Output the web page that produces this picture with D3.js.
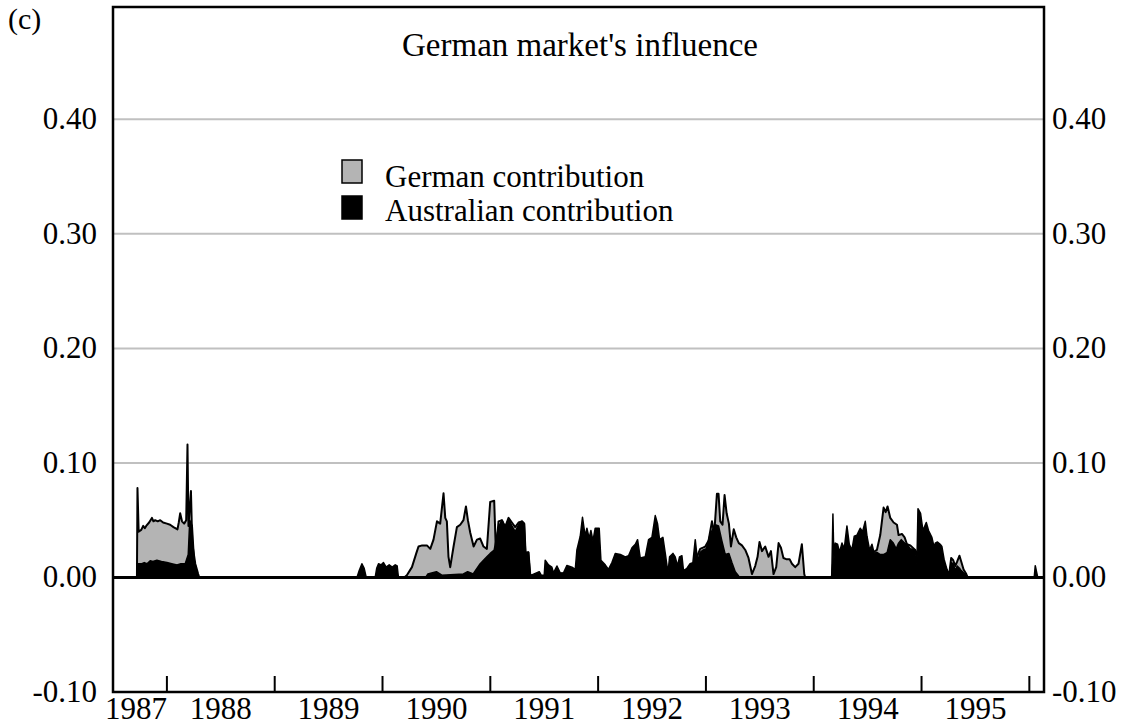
<!DOCTYPE html>
<html>
<head>
<meta charset="utf-8">
<script src="https://cdn.jsdelivr.net/npm/d3@7"></script>
<style>
  body { margin: 0; background: #fff; }
  text { font-family: "Liberation Serif", "Times New Roman", serif; fill: #000; }
</style>
</head>
<body>
<script>
// decimal year, value
var german = [
  [1987.5, 0], [1987.722, 0], [1987.727, 0.078], [1987.738, 0.040], [1987.762, 0.0415],
  [1987.780, 0.045], [1987.795, 0.043], [1987.808, 0.045], [1987.835, 0.048], [1987.861, 0.052],
  [1987.875, 0.049], [1987.891, 0.050], [1987.915, 0.049], [1987.938, 0.050], [1987.965, 0.048],
  [1988.000, 0.047], [1988.030, 0.046], [1988.061, 0.044], [1988.098, 0.042], [1988.110, 0.048],
  [1988.123, 0.056], [1988.140, 0.049], [1988.160, 0.047],
  [1988.179, 0.050], [1988.191, 0.116], [1988.200, 0.045], [1988.223, 0.0755], [1988.235, 0.030],
  [1988.263, 0.012], [1988.290, 0.003], [1988.300, 0],
  [1990.201, 0], [1990.226, 0.002], [1990.273, 0.009], [1990.313, 0.021], [1990.334, 0.027],
  [1990.368, 0.028], [1990.412, 0.028], [1990.443, 0.025], [1990.473, 0.033], [1990.505, 0.049],
  [1990.535, 0.047], [1990.566, 0.0735], [1990.582, 0.052], [1990.597, 0.049], [1990.612, 0.018],
  [1990.628, 0.009], [1990.659, 0.027], [1990.690, 0.044], [1990.721, 0.046], [1990.751, 0.050],
  [1990.774, 0.062], [1990.792, 0.050], [1990.814, 0.039], [1990.845, 0.027], [1990.876, 0.033],
  [1990.906, 0.034], [1990.937, 0.027], [1990.968, 0.025], [1990.999, 0.066], [1991.036, 0.067],
  [1991.052, 0.021], [1991.076, 0.049], [1991.108, 0.050], [1991.138, 0.044], [1991.169, 0.052],
  [1991.200, 0.048], [1991.231, 0.044], [1991.262, 0.048], [1991.293, 0.049], [1991.315, 0.047],
  [1991.327, 0.021], [1991.354, 0.022], [1991.370, 0.003], [1991.380, 0],
  [1991.500, 0], [1991.550, 0.003], [1991.800, 0.004], [1991.860, 0.008], [1992.000, 0.008],
  [1992.090, 0.005], [1992.300, 0.008], [1992.500, 0.010], [1992.640, 0.003], [1992.700, 0.008],
  [1992.790, 0.005], [1992.880, 0.010],
  [1992.947, 0.025], [1992.972, 0.026], [1992.994, 0.027], [1993.024, 0.032], [1993.056, 0.049],
  [1993.077, 0.038], [1993.102, 0.073], [1993.117, 0.073], [1993.133, 0.049], [1993.154, 0.046],
  [1993.173, 0.072], [1993.192, 0.056], [1993.213, 0.047], [1993.232, 0.027], [1993.258, 0.042],
  [1993.281, 0.035], [1993.305, 0.030], [1993.334, 0.028], [1993.365, 0.024], [1993.395, 0.017],
  [1993.427, 0.003], [1993.457, 0.010], [1993.479, 0.018], [1993.497, 0.031], [1993.520, 0.023],
  [1993.550, 0.027], [1993.581, 0.018], [1993.603, 0.023], [1993.627, 0.003], [1993.652, 0.009],
  [1993.674, 0.030], [1993.696, 0.026], [1993.719, 0.017], [1993.744, 0.016], [1993.776, 0.016],
  [1993.798, 0.012], [1993.828, 0.009], [1993.859, 0.012], [1993.890, 0.029], [1993.912, 0.003],
  [1993.921, 0],
  [1994.167, 0], [1994.178, 0.012], [1994.246, 0.012], [1994.339, 0.015], [1994.431, 0.018],
  [1994.505, 0.020], [1994.552, 0.022], [1994.586, 0.024], [1994.617, 0.037], [1994.648, 0.061],
  [1994.667, 0.057], [1994.685, 0.062], [1994.710, 0.052], [1994.741, 0.048], [1994.772, 0.046],
  [1994.787, 0.037], [1994.818, 0.038], [1994.843, 0.035], [1994.865, 0.029], [1994.896, 0.028],
  [1994.941, 0.024], [1994.967, 0.020], [1995.044, 0.020], [1995.127, 0.020], [1995.173, 0.018],
  [1995.210, 0.012], [1995.238, 0.005], [1995.257, 0.003], [1995.275, 0.017], [1995.294, 0.015],
  [1995.313, 0.010], [1995.331, 0.014], [1995.352, 0.019], [1995.368, 0.014], [1995.390, 0.007],
  [1995.415, 0.003], [1995.427, 0],
  [1996.136, 0]
];

var australian = [
  [1987.5, 0], [1987.722, 0], [1987.731, 0.012], [1987.767, 0.012], [1987.790, 0.013],
  [1987.815, 0.012], [1987.845, 0.0145], [1987.870, 0.014], [1987.907, 0.015], [1987.950, 0.014],
  [1988.000, 0.013], [1988.045, 0.012], [1988.093, 0.011], [1988.130, 0.012], [1988.170, 0.012],
  [1988.198, 0.020], [1988.212, 0.050], [1988.235, 0.045], [1988.254, 0.015], [1988.281, 0.003],
  [1988.290, 0],
  [1989.763, 0], [1989.784, 0.006], [1989.809, 0.012], [1989.830, 0.008], [1989.849, 0],
  [1989.932, 0], [1989.946, 0.008], [1989.963, 0.012], [1989.988, 0.011], [1990.009, 0.013],
  [1990.034, 0.009], [1990.062, 0.011], [1990.090, 0.009], [1990.118, 0.011], [1990.136, 0.010],
  [1990.148, 0],
  [1990.400, 0], [1990.420, 0.003], [1990.500, 0.005], [1990.550, 0.002], [1990.750, 0.003],
  [1990.790, 0.005], [1990.841, 0.003], [1990.906, 0.012], [1990.968, 0.018], [1990.999, 0.021],
  [1991.036, 0.024], [1991.076, 0.044], [1991.108, 0.050], [1991.138, 0.044], [1991.169, 0.051],
  [1991.200, 0.045], [1991.231, 0.040], [1991.262, 0.046], [1991.293, 0.049], [1991.315, 0.047],
  [1991.327, 0.022], [1991.354, 0.022], [1991.370, 0.003], [1991.380, 0.002], [1991.454, 0.005],
  [1991.472, 0.002], [1991.500, 0.002],
  [1991.509, 0.015], [1991.540, 0.011], [1991.571, 0.009], [1991.586, 0.004], [1991.618, 0.010],
  [1991.648, 0.004], [1991.679, 0.004], [1991.711, 0.0105], [1991.757, 0.009], [1991.788, 0.007],
  [1991.803, 0.024], [1991.834, 0.036], [1991.855, 0.0525], [1991.880, 0.036], [1991.896, 0.043],
  [1991.917, 0.034], [1991.933, 0.041], [1991.952, 0.032], [1991.973, 0.043], [1992.010, 0.043],
  [1992.026, 0.015], [1992.066, 0.011], [1992.096, 0.007], [1992.128, 0.013], [1992.159, 0.021],
  [1992.206, 0.020], [1992.252, 0.018], [1992.282, 0.019], [1992.314, 0.026], [1992.345, 0.029],
  [1992.366, 0.033], [1992.391, 0.017], [1992.437, 0.018], [1992.468, 0.033], [1992.499, 0.035],
  [1992.530, 0.054], [1992.551, 0.047], [1992.570, 0.033], [1992.601, 0.035], [1992.623, 0.021],
  [1992.648, 0.004], [1992.663, 0.018], [1992.694, 0.021], [1992.715, 0.018], [1992.737, 0.010],
  [1992.755, 0.018], [1992.777, 0.019], [1992.792, 0.006], [1992.824, 0.008], [1992.853, 0.012],
  [1992.879, 0.013], [1992.901, 0.033], [1992.922, 0.014],
  [1992.947, 0.022], [1992.975, 0.024], [1993.003, 0.025], [1993.040, 0.038], [1993.087, 0.046],
  [1993.117, 0.045], [1993.148, 0.032], [1993.179, 0.020], [1993.213, 0.021], [1993.241, 0.013],
  [1993.272, 0.005], [1993.305, 0.001], [1993.320, 0],
  [1994.167, 0], [1994.178, 0.0555], [1994.187, 0.015], [1994.199, 0.030], [1994.221, 0.029],
  [1994.239, 0.022], [1994.262, 0.030], [1994.283, 0.025], [1994.308, 0.045], [1994.330, 0.029],
  [1994.354, 0.024], [1994.376, 0.036], [1994.401, 0.037], [1994.431, 0.043], [1994.453, 0.040],
  [1994.478, 0.049], [1994.494, 0.036], [1994.518, 0.024], [1994.540, 0.029], [1994.561, 0.021],
  [1994.586, 0.022], [1994.617, 0.020], [1994.648, 0.020], [1994.682, 0.022], [1994.710, 0.033],
  [1994.738, 0.030], [1994.765, 0.025], [1994.787, 0.030], [1994.812, 0.033], [1994.843, 0.030],
  [1994.865, 0.029], [1994.896, 0.025], [1994.941, 0.024], [1994.957, 0.012], [1994.967, 0.060],
  [1994.991, 0.056], [1995.013, 0.041], [1995.044, 0.048], [1995.065, 0.041], [1995.096, 0.035],
  [1995.118, 0.026], [1995.127, 0.030], [1995.148, 0.031], [1995.173, 0.029], [1995.189, 0.027],
  [1995.209, 0.016], [1995.236, 0.007], [1995.257, 0.003], [1995.275, 0.013], [1995.294, 0.012],
  [1995.313, 0.006], [1995.331, 0.010], [1995.352, 0.008], [1995.368, 0.006], [1995.390, 0.004],
  [1995.415, 0.002], [1995.427, 0],
  [1996.045, 0], [1996.055, 0.0103], [1996.069, 0.004], [1996.078, 0],
  [1996.136, 0]
];

var yTicks = [-0.1, 0, 0.1, 0.2, 0.3, 0.4];
var gridTicks = [0.1, 0.2, 0.3, 0.4];
var yearTicks = [1988, 1989, 1990, 1991, 1992, 1993, 1994, 1995, 1996];
var yearLabels = [1987, 1988, 1989, 1990, 1991, 1992, 1993, 1994, 1995];

var plotLeft = 113, plotRight = 1044, plotTop = 7, plotBottom = 692;

var svg = d3.select('body').append('svg')
    .attr('width', 1134)
    .attr('height', 726);

var x = d3.scaleLinear().domain([1987.5, 1996.136]).range([plotLeft, plotRight]);
var y = d3.scaleLinear().domain([-0.1, 0.4]).range([plotBottom, 119.3]);

var fmt = function(d) { return d3.format('.2f')(d).replace('\u2212', '-'); };

// grid
svg.selectAll('.grid').data(gridTicks).enter().append('line')
    .attr('x1', plotLeft)
    .attr('x2', plotRight)
    .attr('y1', function(d) { return y(d); })
    .attr('y2', function(d) { return y(d); })
    .attr('stroke', '#c0c0c0')
    .attr('stroke-width', 2);

var area = d3.area()
    .x(function(d) { return x(d[0]); })
    .y0(y(0))
    .y1(function(d) { return y(d[1]); });

svg.append('path')
    .datum(german)
    .attr('d', area)
    .attr('fill', '#b4b4b4')
    .attr('stroke', 'black')
    .attr('stroke-width', 2)
    .attr('stroke-linejoin', 'round');

svg.append('path')
    .datum(australian)
    .attr('d', area)
    .attr('fill', 'black')
    .attr('stroke', 'black')
    .attr('stroke-width', 1.5)
    .attr('stroke-linejoin', 'round');

// zero line
svg.append('line')
    .attr('x1', plotLeft)
    .attr('x2', plotRight)
    .attr('y1', y(0))
    .attr('y2', y(0))
    .attr('stroke', 'black')
    .attr('stroke-width', 3);

// frame
svg.append('rect')
    .attr('x', plotLeft)
    .attr('y', plotTop)
    .attr('width', plotRight - plotLeft)
    .attr('height', plotBottom - plotTop)
    .attr('fill', 'none')
    .attr('stroke', 'black')
    .attr('stroke-width', 2.5);

// year ticks
svg.selectAll('.xtick').data(yearTicks).enter().append('line')
    .attr('x1', function(d) { return x(d); })
    .attr('x2', function(d) { return x(d); })
    .attr('y1', plotBottom)
    .attr('y2', plotBottom - 16)
    .attr('stroke', 'black')
    .attr('stroke-width', 2);

svg.selectAll('.xlab').data(yearLabels).enter().append('text')
    .attr('x', function(d) {
        var a = Math.max(d, x.domain()[0]);
        return (x(a) + x(d + 1)) / 2 - (d < x.domain()[0] ? 4 : 0);
    })
    .attr('y', 719)
    .attr('text-anchor', 'middle')
    .attr('font-size', 31)
    .text(function(d) { return d; });

// y labels both sides
svg.selectAll('.ylab').data(yTicks).enter().append('text')
    .attr('x', 97)
    .attr('y', function(d) { return y(d) + 10; })
    .attr('text-anchor', 'end')
    .attr('font-size', 31)
    .text(fmt);

svg.selectAll('.ylabr').data(yTicks).enter().append('text')
    .attr('x', 1052)
    .attr('y', function(d) { return y(d) + 10; })
    .attr('text-anchor', 'start')
    .attr('font-size', 31)
    .text(fmt);

// title
svg.append('text')
    .attr('x', 580)
    .attr('y', 56)
    .attr('text-anchor', 'middle')
    .attr('font-size', 33)
    .text("German market's influence");

svg.append('text')
    .attr('x', 8)
    .attr('y', 29)
    .attr('font-size', 30)
    .text('(c)');

// legend
var legend = [
    { name: 'German contribution', fill: '#b4b4b4' },
    { name: 'Australian contribution', fill: 'black' }
];
legend.forEach(function(d, i) {
    svg.append('rect')
        .attr('x', 342)
        .attr('y', 160 + i * 36)
        .attr('width', 20)
        .attr('height', 23)
        .attr('fill', d.fill)
        .attr('stroke', 'black')
        .attr('stroke-width', 1.5);
    svg.append('text')
        .attr('x', 385)
        .attr('y', 187 + i * 34)
        .attr('font-size', 31)
        .text(d.name);
});
</script>
</body>
</html>
